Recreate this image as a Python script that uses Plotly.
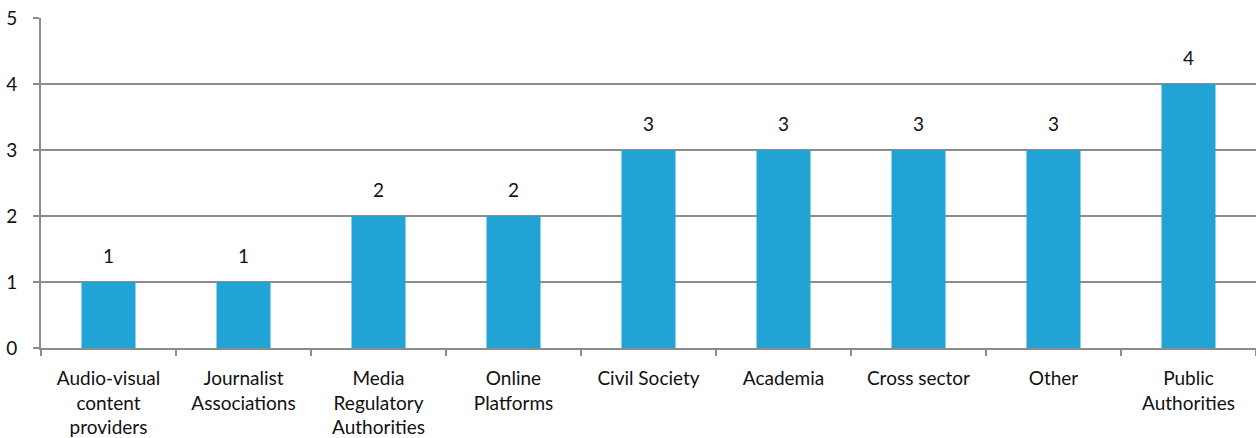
import plotly.graph_objects as go

categories = [
    "Audio-visual<br>content<br>providers",
    "Journalist<br>Associations",
    "Media<br>Regulatory<br>Authorities",
    "Online<br>Platforms",
    "Civil Society",
    "Academia",
    "Cross sector",
    "Other",
    "Public<br>Authorities",
]
counts = [1, 1, 2, 2, 3, 3, 3, 3, 4]
y_ticks = [0, 1, 2, 3, 4, 5]

BAR = "#21A3D6"
GRID = "#8C8C8C"
FONT = "Lato"
TEXT = "#111111"

fig = go.Figure(
    go.Bar(
        x=categories,
        y=counts,
        width=0.4,
        marker=dict(color=BAR, line=dict(width=0)),
        hoverinfo="x+y",
    )
)

# value labels above each bar
for cat, val in zip(categories, counts):
    fig.add_annotation(
        x=cat,
        y=val,
        text=str(val),
        showarrow=False,
        yanchor="bottom",
        yshift=13,
        font=dict(family=FONT, size=19, color=TEXT),
    )

fig.update_layout(
    width=1256,
    height=438,
    margin=dict(l=41, r=0, t=18, b=90),
    paper_bgcolor="white",
    plot_bgcolor="white",
    showlegend=False,
    font=dict(family=FONT, size=19, color=TEXT),
)

fig.update_xaxes(
    type="category",
    showline=True,
    linecolor=GRID,
    linewidth=2,
    ticks="outside",
    tickson="boundaries",
    ticklen=6,
    tickcolor=GRID,
    tickwidth=2,
    showgrid=False,
    ticklabelstandoff=12,
    tickfont=dict(family=FONT, size=19, color=TEXT),
)

fig.update_yaxes(
    range=[0, 5],
    tickvals=y_ticks,
    showline=True,
    linecolor=GRID,
    linewidth=2,
    showgrid=True,
    gridcolor=GRID,
    gridwidth=2,
    zeroline=False,
    ticks="outside",
    ticklen=6,
    tickcolor=GRID,
    tickwidth=2,
    ticklabelstandoff=12,
    tickfont=dict(family=FONT, size=19, color=TEXT),
)

fig.write_html("out.html")
